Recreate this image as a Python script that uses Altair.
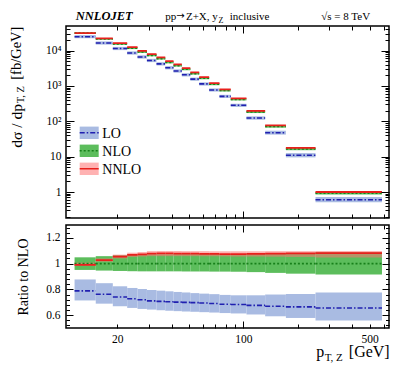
import altair as alt
import pandas as pd

# ---------------- data ----------------
edges = [11.6, 15.2, 18.9, 22.7, 25.9, 29.2, 33.0, 36.9, 41.0, 45.6, 50.8,
         56.9, 64.6, 73.7, 85.1, 104.0, 132.0, 172.0, 251.0, 586.0]
# NLO central value, dsigma/dpT [fb/GeV]
nlo = [31300, 21400, 15400, 11700, 9140, 7330, 5930, 4630, 3760, 2950,
       2230, 1645, 1116, 741, 415, 183, 71.1, 16.5, 0.924]
# ratios to NLO
lo_c = [0.788, 0.762, 0.741, 0.727, 0.719, 0.711, 0.707, 0.704, 0.701, 0.699,
        0.697, 0.694, 0.690, 0.685, 0.682, 0.676, 0.669, 0.664, 0.655]
lo_up = [0.877, 0.848, 0.824, 0.811, 0.803, 0.795, 0.790, 0.785, 0.780, 0.776,
         0.771, 0.767, 0.763, 0.757, 0.754, 0.754, 0.760, 0.764, 0.776]
lo_dn = [0.714, 0.689, 0.669, 0.656, 0.648, 0.643, 0.638, 0.634, 0.631, 0.628,
         0.626, 0.623, 0.620, 0.616, 0.613, 0.605, 0.591, 0.578, 0.558]
nlo_c = [1.0] * 19
nlo_up = [1.049, 1.058, 1.065, 1.070, 1.072, 1.073, 1.073, 1.073, 1.074, 1.074,
          1.074, 1.075, 1.075, 1.075, 1.075, 1.077, 1.080, 1.083, 1.088]
nlo_dn = [0.951, 0.946, 0.943, 0.941, 0.940, 0.940, 0.940, 0.940, 0.940, 0.939,
          0.939, 0.939, 0.938, 0.938, 0.937, 0.934, 0.928, 0.922, 0.915]
nnlo_c = [0.990, 1.027, 1.054, 1.068, 1.072, 1.078, 1.079, 1.079, 1.078, 1.077,
          1.077, 1.076, 1.075, 1.074, 1.074, 1.075, 1.077, 1.079, 1.082]
nnlo_up = [1.008, 1.040, 1.070, 1.085, 1.090, 1.097, 1.098, 1.098, 1.098, 1.097,
           1.097, 1.097, 1.096, 1.096, 1.096, 1.096, 1.097, 1.097, 1.098]
nnlo_dn = [0.982, 1.015, 1.040, 1.052, 1.055, 1.058, 1.058, 1.058, 1.058, 1.058,
           1.058, 1.057, 1.057, 1.056, 1.055, 1.055, 1.054, 1.052, 1.048]

x_labels = [20, 100, 500]
x_major = [100]
x_minor = [20, 30, 40, 50, 60, 70, 80, 90, 200, 300, 400, 500, 600]
y_labels_top = [1, 10, 100, 1000, 10000]
y_minor_top = [m * 10 ** k for k in range(-1, 5) for m in range(2, 10)]
y_labels_bot = [0.6, 0.8, 1.0, 1.2]
y_minor_bot = [0.52, 0.56, 0.64, 0.68, 0.72, 0.76, 0.84, 0.88, 0.92, 0.96,
               1.04, 1.08, 1.12, 1.16, 1.24, 1.28]

series = {"LO": (lo_c, lo_dn, lo_up), "NLO": (nlo_c, nlo_dn, nlo_up),
          "NNLO": (nnlo_c, nnlo_dn, nnlo_up)}
rows = []
for name, (c, dn, up) in series.items():
    for i in range(len(nlo)):
        rows.append(dict(order=name, x0=edges[i], x1=edges[i + 1],
                         c=c[i], dn=dn[i], up=up[i],
                         v=nlo[i] * c[i], vdn=nlo[i] * dn[i], vup=nlo[i] * up[i]))
df = pd.DataFrame(rows)

# ---------------- styling ----------------
FONT = "Liberation Serif"
W = 323
H_TOP = 192
H_BOT = 103
col = {"LO": ("#a9bbe2", "#2020b0"), "NLO": ("#5cbd5c", "#17801a"),
       "NNLO": ("#ff7272", "#e8201c")}
dash = {"LO": [5, 2, 1.5, 2], "NLO": [2, 2], "NNLO": [1, 0]}

xs = alt.Scale(type="log", domain=[10.4, 641], nice=False)
ys_top = alt.Scale(type="log", domain=[0.184, 49500], nice=False)
ys_bot = alt.Scale(type="linear", domain=[0.5, 1.3], nice=False, zero=False)


def panel_layers(ys, yf, ydn, yup):
    layers = []
    for name in ["LO", "NLO", "NNLO"]:
        op = 0.55 if name == "NNLO" else 1.0
        layers.append(
            alt.Chart(df).transform_filter(alt.datum.order == name)
            .mark_rect(color=col[name][0], opacity=op)
            .encode(x=alt.X("x0:Q", scale=xs, axis=None), x2="x1:Q",
                    y=alt.Y(f"{ydn}:Q", scale=ys, axis=None), y2=f"{yup}:Q"))
    for name in ["LO", "NLO", "NNLO"]:
        layers.append(
            alt.Chart(df).transform_filter(alt.datum.order == name)
            .mark_rule(color=col[name][1], strokeWidth=1.6 if name != "NNLO" else 1.8,
                       strokeDash=dash[name])
            .encode(x=alt.X("x0:Q", scale=xs, axis=None), x2="x1:Q",
                    y=alt.Y(f"{yf}:Q", scale=ys, axis=None)))
    return layers


def tick_axis(channel, ys, yf, orient, values, size, labels=False, **kw):
    ax = dict(orient=orient, values=values, grid=False, domain=False, title=None,
              zindex=2)
    if labels:
        ax.update(ticks=False, labels=True, labelFont=FONT, labelFontSize=11.5,
                  labelColor="black", **kw)
    else:
        ax.update(ticks=True, labels=False, tickSize=size, offset=-size,
                  tickColor="black", tickWidth=1)
    if channel == "x":
        enc = dict(x=alt.X("x0:Q", scale=xs, axis=alt.Axis(**ax)),
                   y=alt.Y(f"{yf}:Q", scale=ys, axis=None))
    else:
        enc = dict(x=alt.X("x0:Q", scale=xs, axis=None),
                   y=alt.Y(f"{yf}:Q", scale=ys, axis=alt.Axis(**ax)))
    return alt.Chart(df).mark_point(opacity=0).encode(**enc)


def txt(text, x, y, size, angle=0, align="left", baseline="alphabetic",
        style="normal", weight="normal", font=FONT):
    return alt.Chart(pd.DataFrame({"a": [0]})).mark_text(
        text=text, fontSize=size, angle=angle, align=align, baseline=baseline,
        font=font, fontStyle=style, fontWeight=weight, color="black"
    ).encode(x=alt.value(x), y=alt.value(y))


# ---------------- top panel ----------------
top_axes = [
    tick_axis("x", ys_top, "v", "bottom", x_major, 7),
    tick_axis("x", ys_top, "v", "bottom", x_minor, 4),
    tick_axis("x", ys_top, "v", "top", x_major, 7),
    tick_axis("x", ys_top, "v", "top", x_minor, 4),
    tick_axis("y", ys_top, "v", "left", y_labels_top, 8),
    tick_axis("y", ys_top, "v", "left", y_minor_top, 4),
    tick_axis("y", ys_top, "v", "right", y_labels_top, 8),
    tick_axis("y", ys_top, "v", "right", y_minor_top, 4),
    tick_axis("y", ys_top, "v", "left", y_labels_top, 0, labels=True,
              labelPadding=5,
              labelExpr="datum.value == 1 ? '1' : datum.value == 10 ? '10' : "
                        "datum.value == 100 ? '10\u00b2' : datum.value == 1000 ? "
                        "'10\u00b3' : '10\u2074'"),
]

# legend (decoration)
leg = []
for i, name in enumerate(["LO", "NLO", "NNLO"]):
    y0 = 100.6 + i * 18
    leg.append(alt.Chart(pd.DataFrame({"a": [0]})).mark_rect(
        color=col[name][0], opacity=0.55 if name == "NNLO" else 1.0).encode(
        x=alt.value(13.7), x2=alt.value(32.7), y=alt.value(y0), y2=alt.value(y0 + 12.4)))
    leg.append(alt.Chart(pd.DataFrame({"a": [0]})).mark_rule(
        color=col[name][1], strokeWidth=1.6, strokeDash=dash[name]).encode(
        x=alt.value(13.7), x2=alt.value(32.7), y=alt.value(y0 + 6.2)))
    leg.append(txt(name, 36.3, y0 + 11.3, 14))

top_text = [
    txt("NNLOJET", 9.7, -6.5, 12.5, style="italic", weight="bold"),
    txt("pp", 99.3, -6.5, 11),
    txt("\u2192", 110.3, -6.8, 10, font="DejaVu Sans"),
    txt("Z+X,  y", 151.8, -6.5, 11, align="right"),
    txt("Z", 152.6, -3.5, 8),
    txt("inclusive", 163.7, -6.5, 11),
    txt("\u221as = 8 TeV", 255.3, -6.5, 11),
    txt("d\u03c3  /  dp", -49, 78.0, 15.5, angle=270, align="right", baseline="middle"),
    txt("T, Z", -45, 77.3, 10.5, angle=270, align="left", baseline="middle"),
    txt("[fb/GeV]", -49, 0.6, 14.5, angle=270, align="right", baseline="middle"),
]

top = alt.layer(*panel_layers(ys_top, "v", "vdn", "vup"), *top_axes, *leg, *top_text
                ).resolve_axis(x="independent", y="independent"
                ).properties(width=W, height=H_TOP)

# ---------------- ratio panel ----------------
bot_axes = [
    tick_axis("x", ys_bot, "c", "bottom", x_major, 7),
    tick_axis("x", ys_bot, "c", "bottom", x_minor, 4),
    tick_axis("x", ys_bot, "c", "top", x_major, 7),
    tick_axis("x", ys_bot, "c", "top", x_minor, 4),
    tick_axis("y", ys_bot, "c", "left", y_labels_bot, 7),
    tick_axis("y", ys_bot, "c", "left", y_minor_bot, 3.5),
    tick_axis("y", ys_bot, "c", "right", y_labels_bot, 7),
    tick_axis("y", ys_bot, "c", "right", y_minor_bot, 3.5),
    tick_axis("y", ys_bot, "c", "left", y_labels_bot, 0, labels=True,
              labelPadding=6,
              labelExpr="datum.value == 1 ? '1' : format(datum.value, '.1f')"),
    tick_axis("x", ys_bot, "c", "bottom", x_labels, 0, labels=True,
              labelPadding=5, labelExpr="format(datum.value, 'd')"),
]
bot_text = [
    txt("Ratio to NLO", -42, 52, 14, angle=270, align="center", baseline="middle"),
    txt("p", 250.3, 132, 16),
    txt("T, Z", 258.7, 135.5, 11),
    txt("[GeV]", 323.7, 132, 16, align="right"),
]
bot = alt.layer(*panel_layers(ys_bot, "c", "dn", "up"), *bot_axes, *bot_text
                ).resolve_axis(x="independent", y="independent"
                ).properties(width=W, height=H_BOT)

chart = alt.vconcat(top, bot, spacing=3).configure_view(
    stroke="black", strokeWidth=1.5
).configure_axis(grid=False).properties(
    padding={"left": 0, "top": 0, "right": 0, "bottom": 0}
)

chart.save("out.html", embed_options={"renderer": "svg", "actions": False})
